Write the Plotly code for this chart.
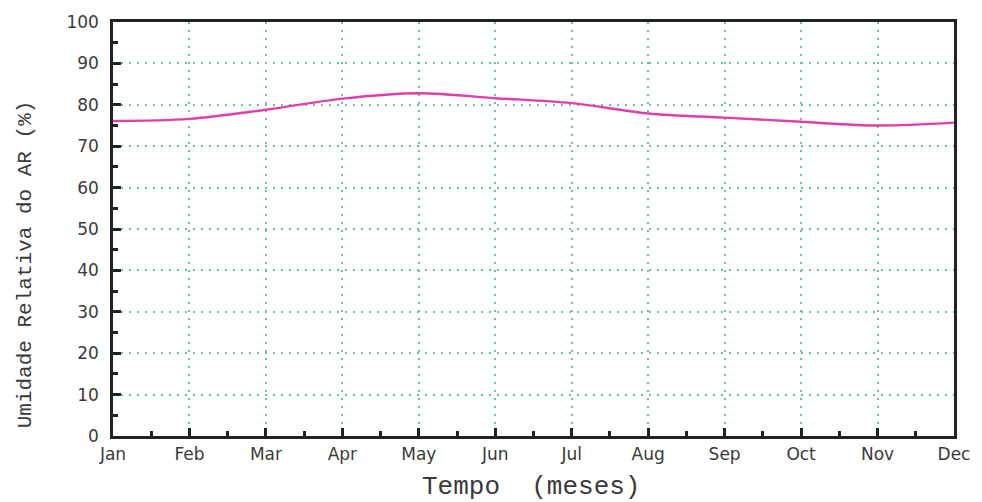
import plotly.graph_objects as go

# Monthly mean relative humidity (%)
months = ["Jan", "Feb", "Mar", "Apr", "May", "Jun", "Jul", "Aug", "Sep", "Oct", "Nov", "Dec"]
humidity = [76.1, 76.6, 78.8, 81.5, 82.8, 81.6, 80.4, 77.9, 76.9, 75.9, 75.0, 75.7]
y_ticks = [0, 10, 20, 30, 40, 50, 60, 70, 80, 90, 100]

x_pos = list(range(len(months)))

fig = go.Figure()
fig.add_trace(go.Scatter(
    x=x_pos, y=humidity, mode="lines",
    line=dict(color="#e03fab", width=2.4, shape="spline", smoothing=1.0),
    showlegend=False,
))

grid = dict(showgrid=True, gridcolor="#6cc48e", gridwidth=1.6, griddash="1.6px,6.4px")
tickfont = dict(family="DejaVu Sans", size=17, color="#3a3a3a")
axis_style = dict(
    ticks="inside", ticklen=8, tickwidth=2.5, tickcolor="#222222",
    showline=True, linecolor="#222222", linewidth=2.5, mirror=True,
    zeroline=False, tickfont=tickfont,
)

fig.update_xaxes(
    range=[0, 11], tickvals=x_pos, ticktext=months,
    minor=dict(dtick=0.5, tick0=0, ticks="inside", ticklen=5, tickwidth=2.5,
               tickcolor="#222222", showgrid=False),
    ticklabelstandoff=1,
    **axis_style, **grid,
)
fig.update_yaxes(
    range=[0, 100], tickvals=y_ticks,
    minor=dict(dtick=5, tick0=0, ticks="inside", ticklen=5, tickwidth=2.5,
               tickcolor="#222222", showgrid=False),
    ticklabelstandoff=8,
    **axis_style, **grid,
)

title_font = dict(family="Liberation Mono", color="#3a3a3a")
fig.add_annotation(
    text="Umidade Relativa do AR (%)", textangle=-90,
    xref="paper", yref="paper", x=(25 - 113) / 844, y=(436 - 264) / 414,
    xanchor="center", yanchor="middle", showarrow=False,
    font=dict(size=21, **title_font),
)
fig.add_annotation(
    text="Tempo  (meses)",
    xref="paper", yref="paper", x=(532 - 113) / 844, y=(436 - 487) / 414,
    xanchor="center", yanchor="middle", showarrow=False,
    font=dict(size=26, **title_font),
)

fig.update_layout(
    width=982, height=502,
    margin=dict(l=113, r=25, t=22, b=66),
    plot_bgcolor="white", paper_bgcolor="white",
)

fig.write_html("out.html")
